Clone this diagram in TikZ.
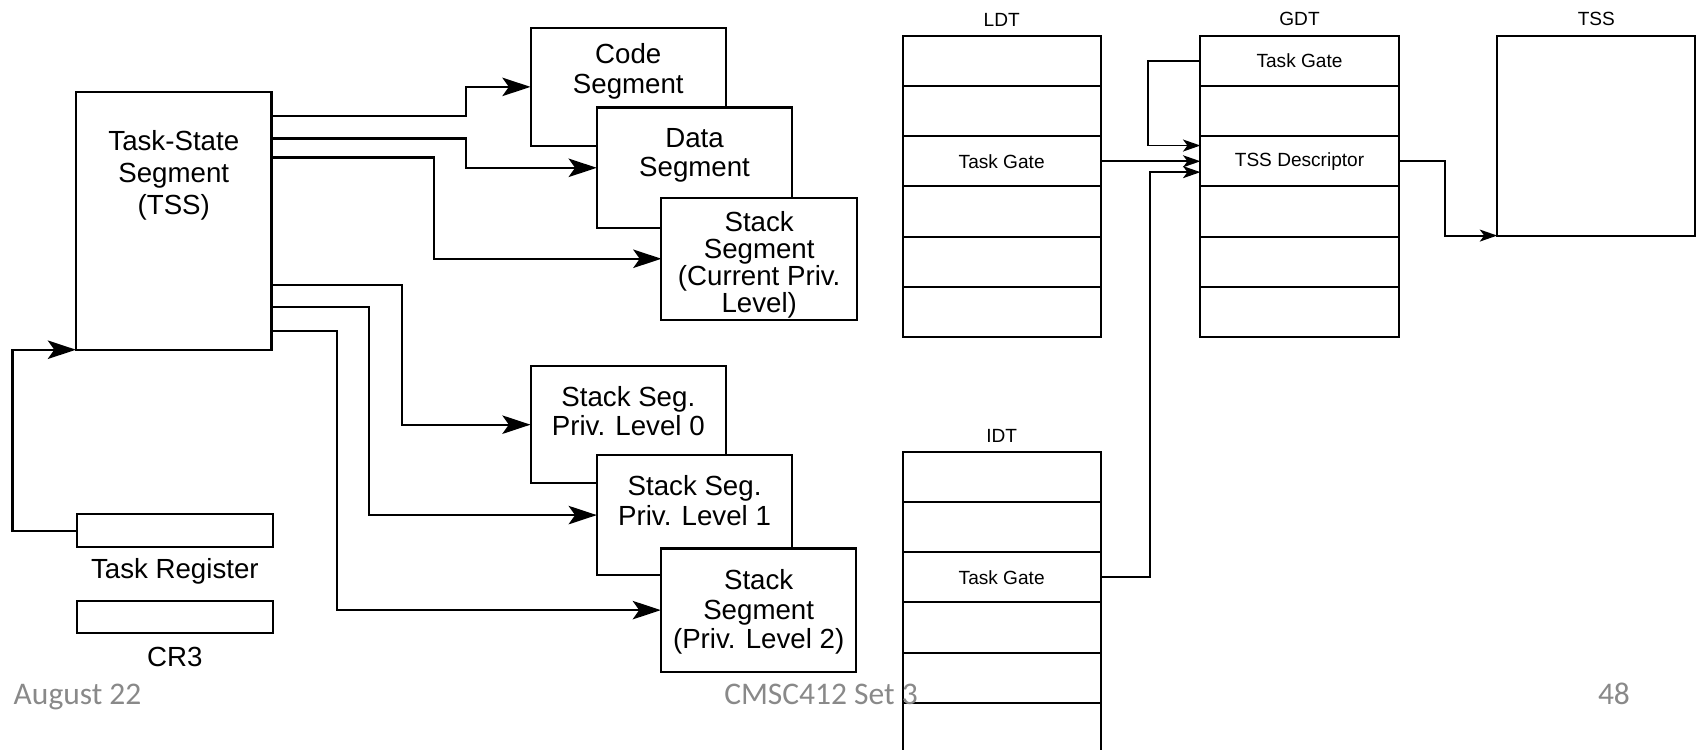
\documentclass[tikz,border=0pt]{standalone}
\usepackage{fontspec}
\setmainfont{Liberation Sans}
\newfontfamily\footfont{Carlito}
\usetikzlibrary{arrows.meta, positioning}
\definecolor{footgray}{RGB}{137,137,137}
\tikzstyle{segbox} = [rectangle, draw=black, line width=1.1pt, fill=white, minimum width=3.6cm, anchor=north west, inner sep=0pt, outer sep=0pt]
\tikzstyle{segtext} = [anchor=north, align=center, inner sep=0pt, font=\fontsize{14.5}{15.5}\selectfont]
\tikzstyle{regbox} = [rectangle, draw=black, line width=1.1pt, minimum width=3.6cm, minimum height=0.6cm, anchor=north west, inner sep=0pt, outer sep=0pt]
\tikzstyle{tabrow} = [rectangle, draw=black, line width=1pt, minimum width=3.65cm, minimum height=0.925cm, inner sep=0pt, outer sep=0pt, font=\fontsize{10}{12}\selectfont]
\tikzstyle{tablabel} = [inner sep=0pt, font=\fontsize{10}{12}\selectfont]
\tikzstyle{bigarrow} = [line width=1.1pt, -{Stealth[length=5.2mm, width=3.4mm, inset=1.2mm]}]
\tikzstyle{smallarrow} = [line width=1pt, -{Stealth[length=3.2mm, width=2.2mm, inset=0.8mm]}]
\tikzstyle{foot} = [anchor=base west, inner sep=0pt, text=footgray, font=\footfont\fontsize{16.5}{20}\selectfont]

\begin{document}
\begin{tikzpicture}
			\useasboundingbox (0,0) rectangle (31.36,-13.8);
			\clip (0,0) rectangle (31.36,-13.8);
			
			% Kolom kiri
			\node (tss) [segbox, minimum height=4.74cm] at (1.40,-1.70) {};
			\node (tsstext) [segtext, font=\fontsize{14.5}{16.8}\selectfont] at ([yshift=-0.70cm]tss.north) {Task-State\\Segment\\(TSS)};
			
			\node (treg) [regbox] at (1.42,-9.47) {};
			\node (tregtext) [segtext, anchor=base] at ([yshift=-0.59cm]treg.south) {Task Register};
			\node (cr3) [regbox] at (1.42,-11.06) {};
			\node (cr3text) [segtext, anchor=base] at ([yshift=-0.61cm]cr3.south) {CR3};
			
			% Segmen atas
			\node (code) [segbox, minimum height=2.18cm] at (9.77,-0.51) {};
			\node (codetext) [segtext] at ([yshift=-0.29cm]code.north) {Code\\Segment};
			\node (data) [segbox, minimum height=2.22cm] at (10.99,-1.98) {};
			\node (datatext) [segtext] at ([yshift=-0.376cm]data.north) {Data\\Segment};
			\node (stack) [segbox, minimum height=2.25cm] at (12.18,-3.64) {};
			\node (stacktext) [segtext, font=\fontsize{14.5}{14.2}\selectfont] at ([yshift=-0.24cm]stack.north) {Stack\\Segment\\(Current Priv.\\Level)};
			
			% Segmen stack per level
			\node (stack0) [segbox, minimum height=2.16cm] at (9.77,-6.74) {};
			\node (stack0text) [segtext] at ([yshift=-0.366cm]stack0.north) {Stack Seg.\\Priv. Level 0};
			\node (stack1) [segbox, minimum height=2.21cm] at (10.99,-8.38) {};
			\node (stack1text) [segtext] at ([yshift=-0.372cm]stack1.north) {Stack Seg.\\Priv. Level 1};
			\node (stack2) [segbox, minimum height=2.27cm] at (12.17,-10.10) {};
			\node (stack2text) [segtext] at ([yshift=-0.384cm]stack2.north) {Stack\\Segment\\(Priv. Level 2)};
			
			% Panah dari TSS
			\draw [bigarrow] (treg.west) -- ++(-1.19,0) |- (tss.south west);
			\draw [bigarrow] ([yshift=-0.44cm]tss.north east) -| ([xshift=-1.19cm]code.west) -- (code.west);
			\draw [bigarrow] ([yshift=-0.85cm]tss.north east) -| ([xshift=-2.41cm]data.west) -- (data.west);
			\draw [bigarrow] ([yshift=-1.20cm]tss.north east) -| ([xshift=-4.19cm]stack.west) -- (stack.west);
			\draw [bigarrow] ([yshift=-3.54cm]tss.north east) -| ([xshift=-2.37cm]stack0.west) -- (stack0.west);
			\draw [bigarrow] ([yshift=-3.95cm]tss.north east) -| ([xshift=-4.19cm]stack1.west) -- (stack1.west);
			\draw [bigarrow] ([yshift=-4.39cm]tss.north east) -| ([xshift=-5.96cm]stack2.west) -- (stack2.west);
			
			% Tabel LDT
			\node (ldt1) [tabrow] at (18.445,-1.12) {};
			\node (ldt2) [tabrow, below=0pt of ldt1] {};
			\node (ldt3) [tabrow, below=0pt of ldt2] {Task Gate};
			\node (ldt4) [tabrow, below=0pt of ldt3] {};
			\node (ldt5) [tabrow, below=0pt of ldt4] {};
			\node (ldt6) [tabrow, below=0pt of ldt5] {};
			\node (ldtlabel) [tablabel, above=0.17cm of ldt1] {LDT};
			
			% Tabel GDT
			\node (gdt1) [tabrow] at (23.93,-1.12) {Task Gate};
			\node (gdt2) [tabrow, below=0pt of gdt1] {};
			\node (gdt3) [tabrow, below=0pt of gdt2] {TSS Descriptor};
			\node (gdt4) [tabrow, below=0pt of gdt3] {};
			\node (gdt5) [tabrow, below=0pt of gdt4] {};
			\node (gdt6) [tabrow, below=0pt of gdt5] {};
			\node (gdtlabel) [tablabel, above=0.17cm of gdt1] {GDT};
			
			% TSS di memori
			\node (tssmem) [rectangle, draw=black, line width=1pt, minimum width=3.65cm, minimum height=3.68cm, anchor=north west, inner sep=0pt, outer sep=0pt] at (27.57,-0.658) {};
			\node (tssmemlabel) [tablabel, above=0.17cm of tssmem] {TSS};
			
			% Tabel IDT
			\node (idt1) [tabrow] at (18.445,-8.78) {};
			\node (idt2) [tabrow, below=0pt of idt1] {};
			\node (idt3) [tabrow, below=0pt of idt2] {Task Gate};
			\node (idt4) [tabrow, below=0pt of idt3] {};
			\node (idt5) [tabrow, below=0pt of idt4] {};
			\node (idt6) [tabrow, below=0pt of idt5] {};
			\node (idtlabel) [tablabel, above=0.17cm of idt1] {IDT};
			
			% Panah ke TSS Descriptor
			\draw [smallarrow] (gdt1.west) -- ++(-0.97,0) |- ([yshift=0.29cm]gdt3.west);
			\draw [smallarrow] (ldt3.east) -- (gdt3.west);
			\draw [smallarrow] (idt3.east) -- ++(0.90,0) |- ([yshift=-0.20cm]gdt3.west);
			\draw [smallarrow] (gdt3.east) -- ++(0.86,0) |- (tssmem.south west);
			
			% Catatan kaki
			\node (date) [foot] at (0.246,-12.98) {August 22};
			\node (course) [foot] at (13.33,-12.98) {CMSC412 Set 3};
			\node (page) [foot, anchor=base] at (29.72,-12.98) {48};
			
		\end{tikzpicture}
\end{document}
